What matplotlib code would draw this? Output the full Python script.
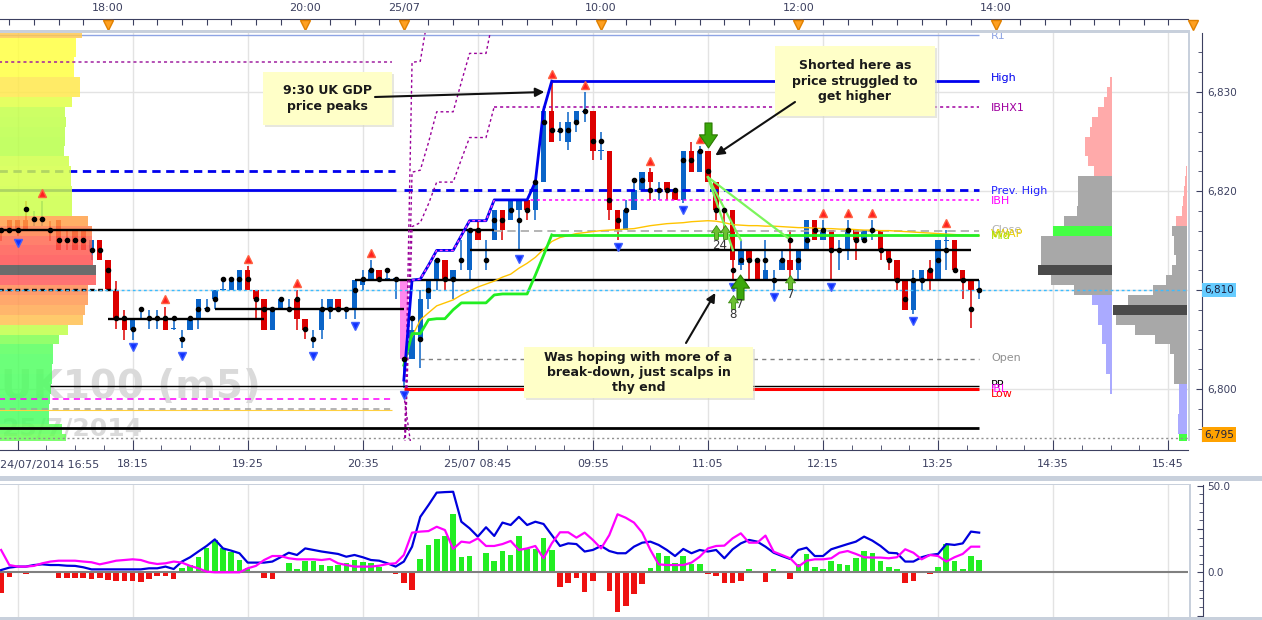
import matplotlib
matplotlib.use("Agg")
import matplotlib.pyplot as plt
import matplotlib.transforms as mtransforms
from matplotlib.patches import Rectangle
from matplotlib.path import Path
import numpy as np

plt.rcParams['font.family'] = ['DejaVu Sans']

# ---------------- DATA ----------------
# 5-minute bars, index 0 = 24/07 16:45 ... index 48 = 20:55, index 49 = 25/07 08:00
OPEN = [
    6816.0, 6817.1, 6817.1, 6817.07, 6817.1, 6817.1, 6816.1, 6817.1, 6815.1, 6816.1,
    6816.1, 6814.0, 6815.05, 6813.0, 6809.9, 6807.1, 6806.0, 6807.1, 6807.1, 6807.1,
    6807.1, 6806.1, 6805.1, 6806.0, 6807.1, 6808.1, 6809.1, 6810.0, 6810.0, 6810.0,
    6812.0, 6810.0, 6809.1, 6806.0, 6808.1, 6808.1, 6809.1, 6807.1, 6805.1, 6806.0,
    6808.1, 6809.1, 6808.1, 6808.1, 6810.5, 6811.1, 6812.0, 6811.1, 6811.1, 6811.1,
    6803.0, 6805.0, 6809.1, 6811.1, 6813.0, 6811.1, 6813.0, 6812.0, 6816.1, 6814.0,
    6815.05, 6818.1, 6817.07, 6818.08, 6819.09, 6818.08, 6820.94, 6828.08, 6826.0, 6824.98,
    6826.97, 6828.0, 6828.08, 6824.0, 6824.04, 6818.08, 6816.06, 6818.08, 6820.1, 6821.95,
    6820.1, 6820.94, 6820.1, 6819.09, 6824.04, 6821.95, 6824.04, 6820.94, 6818.1, 6818.08,
    6812.5, 6814.04, 6813.03, 6811.01, 6811.0, 6812.02, 6813.03, 6812.02, 6814.04, 6817.07,
    6815.05, 6816.06, 6814.0, 6814.04, 6816.06, 6815.05, 6816.0, 6816.06, 6814.04, 6813.03,
    6811.01, 6807.98, 6811.01, 6812.02, 6811.01, 6815.0, 6815.05, 6812.02, 6811.01, 6810.0,
]
HIGH = [
    6816.1, 6817.1, 6817.1, 6819.0, 6818.0, 6819.0, 6817.0, 6817.1, 6816.1, 6816.1,
    6816.1, 6815.05, 6815.05, 6813.0, 6810.9, 6808.0, 6807.0, 6808.1, 6808.0, 6808.0,
    6808.3, 6807.1, 6806.0, 6807.1, 6809.1, 6809.1, 6810.0, 6811.1, 6811.1, 6812.0,
    6812.4, 6810.0, 6809.1, 6808.1, 6809.1, 6809.1, 6810.0, 6807.1, 6806.0, 6809.1,
    6809.1, 6809.1, 6808.2, 6811.0, 6812.0, 6813.0, 6812.0, 6812.0, 6811.2, 6811.1,
    6807.1, 6810.0, 6811.1, 6813.0, 6813.0, 6812.0, 6815.05, 6816.1, 6817.1, 6815.05,
    6818.1, 6818.1, 6819.09, 6819.09, 6819.09, 6820.94, 6828.1, 6831.1, 6826.97, 6828.01,
    6828.08, 6830.0, 6828.08, 6826.0, 6824.04, 6818.08, 6819.09, 6821.11, 6821.95, 6822.3,
    6820.94, 6820.94, 6820.1, 6824.04, 6824.98, 6824.5, 6824.04, 6820.94, 6818.1, 6818.08,
    6815.05, 6814.04, 6813.03, 6815.05, 6812.02, 6814.04, 6816.06, 6814.04, 6817.07, 6817.07,
    6817.07, 6816.06, 6815.05, 6817.07, 6816.06, 6816.06, 6817.07, 6816.06, 6814.04, 6813.03,
    6811.01, 6812.02, 6812.02, 6813.03, 6815.05, 6816.06, 6815.05, 6812.02, 6811.01, 6811.01,
]
LOW = [
    6815.0, 6816.1, 6815.5, 6816.06, 6816.5, 6816.5, 6815.0, 6814.0, 6814.0, 6814.0,
    6814.0, 6813.0, 6813.0, 6810.1, 6806.1, 6805.0, 6805.0, 6807.1, 6806.1, 6806.1,
    6806.0, 6806.0, 6804.1, 6806.0, 6806.1, 6808.1, 6808.1, 6810.0, 6810.0, 6810.0,
    6810.0, 6807.1, 6806.0, 6806.0, 6808.1, 6808.1, 6806.0, 6805.1, 6804.1, 6805.1,
    6807.1, 6808.1, 6807.1, 6807.1, 6810.0, 6811.1, 6811.1, 6811.1, 6809.1, 6800.1,
    6803.0, 6802.1, 6808.1, 6810.0, 6810.0, 6809.1, 6812.0, 6811.1, 6815.05, 6812.0,
    6815.05, 6815.05, 6817.07, 6813.9, 6817.07, 6817.07, 6820.94, 6824.98, 6825.05, 6824.14,
    6826.0, 6827.0, 6823.13, 6823.13, 6817.07, 6815.05, 6816.06, 6818.08, 6820.1, 6819.09,
    6819.09, 6819.09, 6819.09, 6818.8, 6821.95, 6821.95, 6820.94, 6817.07, 6816.0, 6811.01,
    6812.0, 6811.01, 6811.01, 6811.01, 6810.0, 6812.02, 6811.01, 6811.01, 6814.04, 6815.05,
    6815.05, 6811.01, 6812.02, 6813.03, 6813.03, 6815.05, 6815.05, 6813.03, 6812.02, 6810.0,
    6807.98, 6807.6, 6810.0, 6810.0, 6811.01, 6812.02, 6812.02, 6809.09, 6806.13, 6809.09,
]
CLOSE = [
    6815.95, 6816.1, 6816.1, 6816.06, 6817.2, 6817.2, 6816.0, 6814.0, 6815.0, 6814.0,
    6814.0, 6815.05, 6813.0, 6810.1, 6807.1, 6806.0, 6807.0, 6807.2, 6807.2, 6807.2,
    6806.0, 6806.2, 6805.2, 6807.1, 6809.1, 6808.2, 6810.0, 6810.1, 6811.1, 6812.0,
    6810.0, 6809.1, 6806.0, 6808.1, 6809.1, 6808.2, 6807.1, 6806.0, 6805.2, 6808.1,
    6809.1, 6808.1, 6808.2, 6811.0, 6811.1, 6812.0, 6811.1, 6811.2, 6811.2, 6803.0,
    6806.0, 6809.1, 6811.1, 6813.0, 6811.1, 6812.0, 6813.1, 6816.1, 6815.05, 6814.1,
    6818.1, 6816.06, 6819.09, 6819.09, 6818.08, 6820.94, 6828.1, 6824.98, 6826.1, 6826.97,
    6828.08, 6828.1, 6824.04, 6824.1, 6818.08, 6816.06, 6818.08, 6820.1, 6821.95, 6820.94,
    6820.2, 6820.1, 6819.09, 6824.04, 6821.95, 6824.04, 6820.94, 6818.08, 6818.0, 6813.03,
    6814.04, 6813.03, 6811.01, 6812.02, 6811.1, 6813.03, 6812.02, 6814.04, 6817.07, 6815.05,
    6816.06, 6814.04, 6814.1, 6816.06, 6815.05, 6816.06, 6816.1, 6814.04, 6813.03, 6811.01,
    6807.98, 6811.01, 6812.02, 6811.01, 6815.05, 6815.1, 6812.02, 6811.01, 6810.0, 6810.0,
]
DOT = [
    6816.06, 6816.06, 6816.06, 6818.15, 6817.14, 6817.14, 6816.06, 6815.05, 6815.05, 6815.05,
    6815.05, 6814.04, 6814.04, 6812.02, 6807.14, 6807.14, 6806.06, 6808.11, 6807.14, 6807.14,
    6807.14, 6807.14, 6805.08, 6807.14, 6808.11, 6808.11, 6809.09, 6811.08, 6811.08, 6811.08,
    6811.08, 6809.09, 6808.11, 6808.11, 6809.09, 6808.11, 6809.09, 6806.06, 6805.08, 6808.11,
    6808.11, 6808.11, 6808.11, 6810.0, 6811.08, 6812.02, 6811.08, 6812.02, 6811.08, 6803.03,
    6807.14, 6805.08, 6810.0, 6813.03, 6811.08, 6811.08, 6813.03, 6816.06, 6816.06, 6813.03,
    6817.07, 6817.07, 6818.08, 6817.07, 6818.08, 6820.94, 6826.97, 6826.16, 6826.16, 6826.16,
    6826.97, 6828.08, 6825.05, 6825.05, 6819.09, 6817.07, 6818.08, 6821.11, 6821.11, 6820.1,
    6820.1, 6820.1, 6820.1, 6823.13, 6823.13, 6824.04, 6822.0, 6818.08, 6818.08, 6812.02,
    6813.03, 6813.03, 6813.03, 6813.03, 6811.01, 6813.03, 6815.05, 6813.03, 6815.05, 6816.06,
    6816.06, 6814.04, 6814.04, 6816.06, 6815.05, 6815.05, 6816.06, 6814.04, 6813.03, 6811.01,
    6809.09, 6811.01, 6811.01, 6812.02, 6813.03, 6814.04, 6812.02, 6811.01, 6808.11, 6810.0,
]
SWING_HIGH_BARS = [5, 20, 30, 36, 45, 67, 71, 79, 85, 100, 103, 106, 115]
SWING_LOW_BARS = [2, 16, 22, 38, 43, 49, 63, 75, 83, 89, 94, 101, 111]
GAP_BAR = 49

# developing session lines (25/07), starting at bar 49
DEV_START = 49
RUN_HIGH = [6800.9, 6811.0, 6811.1, 6812.5, 6814.0, 6814.0, 6814.0, 6815.5, 6817.0, 6817.0,
            6817.0, 6819.1, 6819.1, 6819.1, 6819.1, 6819.1, 6820.9, 6828.2, 6831.1]
MID_DEV = [6802.4, 6805.6, 6805.6, 6807.0, 6807.1, 6807.1, 6808.0, 6808.7, 6808.7, 6808.7,
           6808.7, 6809.5, 6809.6, 6809.6, 6809.6, 6809.6, 6811.5, 6813.5, 6815.56]
IBX_HALF = [6790.0, 6816.4, 6816.8, 6818.7, 6820.9, 6820.9, 6820.9, 6823.2, 6825.4, 6825.4, 6825.4, 6828.52]
IBX_ONE = [6790.0, 6821.9, 6822.1, 6824.9, 6828.0, 6828.0, 6828.0, 6831.0, 6833.9, 6833.9, 6833.9, 6838.0]
IBX_TWO = [6790.0, 6833.0, 6833.1, 6838.0]
IBLX = [6799.4, 6793.5]
VWAP_START = 50
VWAP = [6805.28, 6806.97, 6807.7, 6808.4, 6808.7, 6809.0, 6809.5, 6809.9, 6810.3, 6810.6,
        6810.9, 6811.3, 6811.6, 6812.2, 6812.7, 6813.3, 6814.1, 6814.9, 6815.3, 6815.5,
        6815.7, 6815.8, 6815.9, 6816.0, 6816.05, 6816.1, 6816.15, 6816.2, 6816.35, 6816.5,
        6816.6, 6816.7, 6816.75, 6816.8, 6816.9, 6816.95, 6817.0, 6816.95, 6816.8, 6816.6,
        6816.55, 6816.5, 6816.5, 6816.45, 6816.45, 6816.4, 6816.35, 6816.3, 6816.3, 6816.25,
        6816.2, 6816.2, 6816.15, 6816.15, 6816.1, 6816.05, 6816.05, 6816.0, 6816.0, 6815.95,
        6815.9, 6815.85, 6815.8, 6815.75, 6815.7, 6815.65, 6815.6, 6815.55, 6815.5, 6815.5]

# horizontal levels: name, price, first bar, last bar
LEVEL_NAMES = ['r1', 'prev_x2', 'high', 'ibhx1', 'prev_r', 'prev_high_old', 'prev_high', 'ibh',
               'lvl_a', 'close', 'mid', 'lvl_b', 'lvl_c', 'lvl_d', 'lvl_e', 'lvl_f', 'open',
               'pp', 'low', 'prev_s1', 'prev_s2', 'lvl_g', 'floor', 'last']
LEVEL_PRICES = [6835.76, 6833.0, 6831.14, 6828.52, 6822.05, 6820.1, 6820.1, 6819.09,
                6816.06, 6816.0, 6815.56, 6814.04, 6811.0, 6810.0, 6808.08, 6807.07, 6803.03,
                6800.3, 6800.0, 6799.0, 6797.98, 6796.06, 6795.05, 6810.0]
LEVEL_START = [-0.2, -0.2, 67, 60, -0.2, -0.2, 49, 60, -0.2, 60, 67, 57, 43, -0.2, 26, 13, 51,
               6, 49, -0.2, -0.2, -0.2, -0.2, -0.2]
LEVEL_END = [119, 47.6, 119, 119, 47.9, 48.0, 119, 119, 60, 119, 119, 118, 119, 14, 49, 32, 119,
             119, 119, 47.6, 47.6, 119, 146, 146]

LABEL_TEXT = ['R1', 'High', 'IBHX1', 'Prev. High', 'IBH', 'Close', 'VWAP', 'Mid', 'Open', 'PP', 'IBL', 'Low']
LABEL_PRICE = [6835.7, 6831.4, 6828.4, 6819.95, 6818.95, 6816.1, 6815.65, 6815.5, 6803.1, 6800.4, 6800.0, 6799.5]

# trade signals
TREND_FROM = (86, 6821.4)
TREND_TO = [(89.05, 6814.0), (90.0, 6815.05), (95.9, 6815.15)]
SIG_DOWN = [(86, 6825.7)]
SIG_UP_BIG = [(89.9, 6810.3)]
SIG_UP_SMALL = [(87.0, 6815.9), (88.1, 6815.9), (89.0, 6808.8), (96.0, 6810.8)]
SIG_TEXT = [('24', 87.4, 6814.5), ('7', 89.9, 6808.5), ('8', 89.0, 6807.5), ('7', 96.1, 6809.5)]

# volume profiles
PREV_PROF_PRICE = list(range(6795, 6837))
PREV_PROF_VOL = [66, 62, 49, 49, 50, 51, 52, 52, 53, 53, 59.4, 67.5, 83, 85, 88.4, 87.5, 95.6, 96.4,
                 93, 92.4, 92.4, 92.4, 87.5, 72, 72, 71.5, 71, 71, 69, 63.5, 65, 65, 66, 65, 71.5,
                 79.5, 79.5, 74, 74, 76, 76, 82]
TODAY_PROF_PRICE = list(range(6800, 6832))
TODAY_PROF_VOL = [2, 2, 6, 6, 6, 10, 10, 14, 14, 20, 38.5, 61, 74, 71, 71, 71, 59, 48.5, 35, 34, 34, 34,
                  18, 24, 27, 27, 22, 20, 14, 8, 5, 2]
COMP_PROF_PRICE = list(range(6795, 6823))
COMP_PROF_VOL = [8, 9, 9, 8, 8, 8, 13, 13, 13, 17.5, 32, 52, 71, 74, 59, 34, 21, 15, 11, 13, 13, 15,
                 11, 5, 4, 3, 2, 1]

# lower oscillator panel
HIST = [-11.7, -2.5, 0.0, -1.0, 0.3, 0.0, -0.5, -3.0, -3.0, -3.5,
        -3.0, -4.0, -3.0, -4.4, -5.0, -5.0, -5.0, -5.4, -4.0, -2.0,
        -2.0, -4.0, 2.7, 4.2, 9.0, 13.8, 18.7, 13.8, 12.0, 7.0,
        2.3, 0.8, -3.0, -3.7, -0.6, 5.6, 2.0, 6.5, 6.5, 4.2,
        3.8, 4.2, 5.2, 7.1, 6.2, 5.6, 2.9, 0.0, -1.2, -6.0,
        -10.2, 7.5, 15.8, 19.2, 21.2, 33.7, 8.7, 9.4, 1.0, 11.0,
        6.7, 12.3, 10.0, 21.0, 13.5, 13.5, 19.6, 12.9, -8.7, -6.0,
        -3.5, -11.5, -4.8, -0.6, -10.6, -22.7, -19.2, -12.7, -6.7, 2.3,
        11.3, 9.4, 5.6, 9.4, 4.8, 4.8, -1.2, -2.1, -6.3, -6.3,
        -4.8, 1.9, 0.0, -5.8, 1.9, -0.6, -4.0, 4.8, 10.6, 2.9,
        1.9, 6.7, 4.8, 4.2, 8.5, 12.3, 11.3, 6.7, 3.3, 1.7,
        -6.3, -5.0, 1.0, -1.0, 3.3, 16.3, 6.7, 1.9, 9.4, 7.1]
OSC_BLUE = [1.3, 2.7, 3.3, 3.3, 4.2, 4.6, 4.2, 4.2, 3.8, 3.7,
            2.9, 1.7, 1.7, 1.7, 1.7, 1.7, 1.7, 1.7, 2.3, 2.3,
            3.3, 1.9, 6.2, 8.7, 12.0, 15.2, 19.0, 13.8, 12.5, 11.0,
            5.6, 5.6, 5.6, 6.2, 8.7, 11.3, 10.0, 13.8, 12.9, 12.0,
            11.3, 10.6, 9.0, 10.0, 8.7, 7.1, 6.7, 5.2, 3.3, 6.2,
            14.8, 32.0, 38.8, 46.0, 46.3, 46.5, 29.2, 25.4, 20.6, 26.0,
            21.0, 28.7, 27.3, 32.0, 27.3, 29.2, 27.9, 21.5, 15.2, 16.7,
            16.3, 12.0, 12.9, 15.2, 12.3, 11.0, 11.0, 14.8, 17.1, 17.7,
            15.8, 12.9, 9.4, 13.5, 11.0, 12.9, 12.0, 12.9, 8.1, 13.3,
            16.7, 18.7, 17.7, 14.8, 11.3, 9.4, 7.7, 12.9, 14.2, 9.4,
            9.4, 13.3, 14.8, 16.3, 17.7, 20.6, 18.3, 15.2, 11.3, 11.0,
            6.2, 6.2, 8.7, 10.0, 10.6, 16.3, 15.8, 16.7, 23.5, 22.9]
OSC_MAG = [12.9, 4.2, 3.3, 3.3, 3.7, 5.2, 6.2, 6.7, 6.7, 6.7,
           6.2, 5.8, 4.6, 5.6, 6.7, 7.1, 7.5, 7.1, 5.6, 4.8,
           5.2, 6.2, 5.6, 3.7, 2.3, 0.4, 0.0, 0.0, 0.0, 0.0,
           2.3, 3.7, 7.1, 9.4, 9.4, 8.1, 7.5, 7.5, 7.5, 7.1,
           7.7, 5.2, 4.2, 3.3, 3.3, 3.3, 3.8, 4.8, 5.2, 10.0,
           22.9, 23.5, 23.8, 26.3, 24.4, 13.5, 17.7, 17.1, 19.6, 15.2,
           15.2, 16.3, 18.1, 12.9, 13.8, 15.2, 8.1, 16.7, 23.1, 23.1,
           20.0, 22.9, 18.7, 13.8, 21.5, 33.5, 31.5, 28.7, 22.9, 12.9,
           4.6, 4.2, 4.2, 4.2, 5.6, 9.0, 13.8, 15.2, 15.4, 19.6,
           22.5, 17.1, 17.1, 21.2, 11.9, 10.0, 8.1, 3.3, 6.7, 7.5,
           7.5, 8.1, 11.3, 12.3, 10.6, 8.7, 8.5, 8.5, 8.1, 8.7,
           13.3, 11.3, 7.5, 10.0, 9.4, 6.2, 8.7, 10.6, 14.8, 14.8]

# axis labels
BOTTOM_TICK_LABELS = ['', '18:15', '19:25', '20:35', '25/07 08:45', '09:55', '11:05', '12:15',
                      '13:25', '14:35', '15:45']
FIRST_DATE_LABEL = '24/07/2014 16:55'
TOP_LABEL_BARS = [13, 37, 49, 73, 97, 121]
TOP_LABELS = ['18:00', '20:00', '25/07', '10:00', '12:00', '14:00']
HOUR_MARK_BARS = [13, 37, 49, 73, 97, 121, 145]

# ---------------- LAYOUT ----------------
W, H = 1262, 620
PX_PER_BAR = 8.219
X0_PX = 1.1
PLOT_R = 1188
TOP, BOT = 33, 441
REF_Y, REF_P, PX_PER_PT = 290, 6810.0, 9.9


def px_to_k(x):
    return (x - X0_PX) / PX_PER_BAR


def py_to_p(y):
    return REF_P + (REF_Y - y) / PX_PER_PT


def fax(x0, y0, x1, y1):
    return [x0 / W, 1 - y1 / H, (x1 - x0) / W, (y1 - y0) / H]


for name, arr in [('HIGH', HIGH), ('LOW', LOW), ('CLOSE', CLOSE), ('DOT', DOT), ('HIST', HIST),
                  ('OSC_BLUE', OSC_BLUE), ('OSC_MAG', OSC_MAG)]:
    assert len(arr) == len(OPEN), (name, len(arr))

BLUE_C, RED_C = '#0a64c8', '#dc0000'
AXC = '#3c4060'

fig = plt.figure(figsize=(W / 100, H / 100), dpi=100)
fig.patch.set_facecolor('white')

ax = fig.add_axes(fax(0, TOP, PLOT_R, BOT))
XMIN, XMAX = px_to_k(0), px_to_k(PLOT_R)
ax.set_xlim(XMIN, XMAX)
ax.set_ylim(py_to_p(BOT), py_to_p(TOP))
ax.set_facecolor('white')

N = len(OPEN)
K = np.arange(N)
O = np.array(OPEN); Hh = np.array(HIGH); L = np.array(LOW); C = np.array(CLOSE)

# ---- axes decoration ----
for s in ['left', 'top']:
    ax.spines[s].set_visible(False)
ax.spines['right'].set_position(('outward', 10))
ax.spines['bottom'].set_position(('outward', 6.5))
for s in ['right', 'bottom']:
    ax.spines[s].set_color(AXC)
ax.yaxis.tick_right()
major_x = np.arange(2, 145, 14)
ax.set_xticks(major_x)
ax.set_xticklabels(BOTTOM_TICK_LABELS)
ax.set_xticks([m for m in np.arange(2, 145, 3.5) if m not in major_x], minor=True)
ax.set_yticks([6800, 6810, 6820, 6830])
ax.set_yticklabels(['6,800', '', '6,820', '6,830'])
ax.set_yticks(np.arange(6796, 6836, 2), minor=True)
ax.tick_params(axis='x', which='major', direction='in', length=7, pad=6.5, labelsize=8, colors=AXC)
ax.tick_params(axis='x', which='minor', direction='in', length=3.5, colors=AXC)
ax.tick_params(axis='y', which='major', direction='in', length=4.5, pad=3.5, labelsize=7.5, colors=AXC)
ax.tick_params(axis='y', which='minor', direction='in', length=3, colors=AXC)
ax.grid(True, which='major', color='#e3e3e3', lw=1, zorder=0)
ax.set_axisbelow(True)

sec = ax.secondary_xaxis(1 + 14 / (BOT - TOP))
sec.set_xticks(np.arange(1, 146, 3))
sec.set_xticklabels([TOP_LABELS[TOP_LABEL_BARS.index(t)] if t in TOP_LABEL_BARS else ''
                     for t in np.arange(1, 146, 3)])
sec.tick_params(axis='x', direction='in', length=4.3, pad=4, labelsize=8, colors=AXC)
for sp in sec.spines.values():
    sp.set_color(AXC)
blend = mtransforms.blended_transform_factory(ax.transData, ax.transAxes)
ax.plot(HOUR_MARK_BARS, [1 + 8.5 / (BOT - TOP)] * len(HOUR_MARK_BARS), 'v', color='#ffa020',
        mec='#e08000', ms=6.5, transform=blend, clip_on=False, zorder=20)

# boxed price labels on the right axis
yblend = mtransforms.blended_transform_factory(ax.transAxes, ax.transData)
ax.text(1 + 16 / PLOT_R, 6810.0, '6,810', transform=yblend, fontsize=7.5, color='#1c2040',
        va='center', ha='left', bbox=dict(boxstyle='square,pad=0.2', fc='#66ccff', ec='none'),
        clip_on=False)
ax.text(1 + 16 / PLOT_R, 6795.4, '6,795', transform=yblend, fontsize=7.5, color='#1c2040',
        va='center', ha='left', bbox=dict(boxstyle='square,pad=0.2', fc='#ffa200', ec='none'),
        clip_on=False)

# ---- level line styles ----
STY = {
    'r1': dict(color='#8ea4e4', lw=1.0, ls='-', z=2),
    'prev_x2': dict(color='#a020a0', lw=1.1, ls=(0, (2, 2)), z=7),
    'high': dict(color='#0000ee', lw=2.0, ls='-', z=7),
    'ibhx1': dict(color='#a000a0', lw=1.1, ls=(0, (2, 2)), z=7),
    'prev_r': dict(color='#0000ee', lw=2.0, ls=(0, (3, 2)), z=2),
    'prev_high_old': dict(color='#0000ee', lw=2.0, ls='-', z=2),
    'prev_high': dict(color='#0000ee', lw=2.0, ls=(0, (3, 2)), z=7),
    'ibh': dict(color='#ff00ff', lw=1.1, ls=(0, (2, 2)), z=7),
    'lvl_a': dict(color='black', lw=1.7, ls='-', z=7),
    'close': dict(color='#a8a8a8', lw=1.2, ls=(0, (5, 3)), z=7),
    'mid': dict(color='#22ee22', lw=2.0, ls='-', z=7.2),
    'lvl_b': dict(color='black', lw=1.7, ls='-', z=7),
    'lvl_c': dict(color='black', lw=1.7, ls='-', z=7),
    'lvl_d': dict(color='black', lw=1.7, ls=(0, (2, 1.5)), z=7.5),
    'lvl_e': dict(color='black', lw=1.7, ls='-', z=7),
    'lvl_f': dict(color='black', lw=1.7, ls='-', z=7),
    'open': dict(color='#808080', lw=1.0, ls=(0, (3, 3)), z=7),
    'pp': dict(color='black', lw=1.0, ls='-', z=7),
    'low': dict(color='#ff0000', lw=2.2, ls='-', z=7),
    'prev_s1': dict(color='#ff00ff', lw=1.1, ls=(0, (4, 3)), z=7),
    'prev_s2': dict(color='#a0a0a0', lw=1.1, ls=(0, (4, 3)), z=7),
    'lvl_g': dict(color='black', lw=2.0, ls='-', z=7),
    'floor': dict(color='#909090', lw=1.0, ls=(0, (1.5, 2)), z=7),
    'last': dict(color='#3cbcff', lw=1.0, ls=(0, (2, 2)), z=8),
}
for nm, p, k0, k1 in zip(LEVEL_NAMES, LEVEL_PRICES, LEVEL_START, LEVEL_END):
    s = STY[nm]
    ax.hlines(p, k0, k1, colors=s['color'], lw=s['lw'], linestyles=[s['ls']], zorder=s['z'])
    if nm == 'prev_s2':
        ax.hlines(p - 0.12, k0, k1, colors='#ffd040', lw=0.8, zorder=6.9)

# ---- candles ----
up = C >= O
body_col = np.where(up, BLUE_C, RED_C)
wick_col = body_col.copy()
wick_col[GAP_BAR] = BLUE_C
ax.vlines(K, L, Hh, colors=wick_col, lw=1.1, zorder=4)
bottoms = np.minimum(O, C)
heights = np.maximum(np.abs(C - O), 0.09)
ax.bar(K, heights, bottom=bottoms, width=0.66, color=body_col, linewidth=0, zorder=4.1)
ax.bar([GAP_BAR], [heights[GAP_BAR]], bottom=[bottoms[GAP_BAR]], width=0.95, color='#ff88ee',
       linewidth=0, zorder=4.2)
ax.plot(K, DOT, 'o', color='black', ms=3.0, zorder=9)
ax.plot(SWING_HIGH_BARS, Hh[SWING_HIGH_BARS] + 0.75, '^', color='#ff2020', mec='#ff6040',
        ms=5.5, zorder=9)
ax.plot(SWING_LOW_BARS, L[SWING_LOW_BARS] - 0.75, 'v', color='#1030ff', mec='#4060ff',
        ms=5.5, zorder=9)

# ---- previous-day profile (left) ----
PREV_COLORS = ['#66ff55', '#5cff58', '#48ff60', '#48ff60', '#48ff60', '#4cff60', '#4cff60',
               '#50ff60', '#50ff60', '#58ff5c', '#80ff50', '#c0ff48', '#ffc050', '#ffa850',
               '#ff9850', '#ff8850', '#ff5858', '#505050', '#ff5050', '#ff5a50', '#ff6850',
               '#ff8048', '#ffa048', '#ccff48', '#ccff48', '#d0ff48', '#d4ff48', '#d4ff48',
               '#d0ff48', '#b8ff48', '#b8ff48', '#bcff48', '#c0ff48', '#c4ff48', '#e0ff44',
               '#ffe84a', '#ffe84a', '#ffff40', '#ffff40', '#ffff40', '#ffff40', '#ffc850']
ax.barh(PREV_PROF_PRICE, np.array(PREV_PROF_VOL) / PX_PER_BAR, left=XMIN, height=1.0,
        color=PREV_COLORS, alpha=0.84, linewidth=0, zorder=6)

# ---- right-hand profiles ----
def prof_colors(prices, poc, green, lo_end, hi_start):
    cols = []
    for p in prices:
        if p == poc:
            cols.append('#4a4a4a')
        elif p == green:
            cols.append('#44ff44')
        elif p <= lo_end:
            cols.append('#aaaaff')
        elif p >= hi_start:
            cols.append('#ffaaaa')
        else:
            cols.append('#a8a8a8')
    return cols

ax.barh(TODAY_PROF_PRICE, -np.array(TODAY_PROF_VOL) / PX_PER_BAR, left=px_to_k(1112), height=1.0,
        color=prof_colors(TODAY_PROF_PRICE, 6812, 6816, 6809, 6822), linewidth=0, zorder=3)
comp_cols = prof_colors(COMP_PROF_PRICE, 6808, 6795, 6800, 6817)
ax.barh(COMP_PROF_PRICE, -np.array(COMP_PROF_VOL) / PX_PER_BAR, left=px_to_k(1187), height=1.0,
        color=comp_cols, linewidth=0, zorder=3)

# ---- watermark (under the profile, as in the original) ----
ax.text(1 / PLOT_R, (BOT - 398) / (BOT - TOP), 'UK100 (m5)', transform=ax.transAxes,
        fontsize=28, fontweight='bold', color='#dadada', va='baseline', ha='left', zorder=1.5)
ax.text(2 / PLOT_R, (BOT - 435) / (BOT - TOP), '25/7/2014', transform=ax.transAxes,
        fontsize=18, fontweight='bold', color='#dadada', va='baseline', ha='left', zorder=1.5)

# ---- developing session lines ----
kd = np.arange(DEV_START, DEV_START + len(RUN_HIGH))
ax.plot(kd, RUN_HIGH, color='#0000ee', lw=2.0, zorder=7.4)
kib = np.arange(DEV_START, DEV_START + len(IBX_HALF))
ax.plot(kib[1:], np.array(RUN_HIGH)[1:len(kib)], color='#ff40ff', lw=1.0, ls=(0, (2, 2)), zorder=7.5)
ax.plot(kd, MID_DEV, color='#22ee22', lw=2.0, zorder=7.3)
ax.plot(np.arange(VWAP_START, VWAP_START + len(VWAP)), VWAP, color='#ffc400', lw=1.0, zorder=7.1)
ax.plot(kib, IBX_HALF, color='#990099', lw=1.0, ls=(0, (2, 2)), zorder=7)
ax.plot(kib, IBX_ONE, color='#990099', lw=1.0, ls=(0, (2, 2)), zorder=7)
ax.plot(np.arange(DEV_START, DEV_START + len(IBX_TWO)), IBX_TWO, color='#990099', lw=1.0,
        ls=(0, (2, 2)), zorder=7)
ax.plot(np.arange(DEV_START, DEV_START + len(IBLX)), IBLX, color='#990099', lw=1.0,
        ls=(0, (2, 2)), zorder=7)

# ---- level labels ----
LABEL_COLORS = ['#8ea4e4', '#0000ee', '#a000a0', '#2020ff', '#ff00ff', '#b0b0b0', '#e8cc00',
                '#a8e000', '#909090', '#000000', '#ff00ff', '#ff0000']
LABEL_K = px_to_k(991)
for t, p, c in zip(LABEL_TEXT, LABEL_PRICE, LABEL_COLORS):
    ax.text(LABEL_K, p, t, color=c, fontsize=8, va='center', ha='left', zorder=12)

# ---- trade signals ----
for (k1, p1) in TREND_TO:
    ax.plot([TREND_FROM[0], k1], [TREND_FROM[1], p1], color='#7cf55c', lw=1.6, zorder=8.5)

down_arrow = Path([(-0.28, 1), (0.28, 1), (0.28, 0.05), (0.72, 0.05), (0, -1), (-0.72, 0.05),
                   (-0.28, 0.05), (-0.28, 1)],
                  [Path.MOVETO] + [Path.LINETO] * 6 + [Path.CLOSEPOLY])
up_arrow = Path([(x, -y) for x, y in down_arrow.vertices], down_arrow.codes)
for k1, p1 in SIG_DOWN:
    ax.plot(k1, p1, marker=down_arrow, ms=18, mfc='#3aa80a', mec='#2a7800', mew=0.8, zorder=10)
for k1, p1 in SIG_UP_BIG:
    ax.plot(k1, p1, marker=up_arrow, ms=18, mfc='#3aa80a', mec='#2a7800', mew=0.8, zorder=10)
for k1, p1 in SIG_UP_SMALL:
    ax.plot(k1, p1, marker=up_arrow, ms=10, mfc='#6cc030', mec='#3a8a10', mew=0.6, zorder=10)
for t, k1, p1 in SIG_TEXT:
    ax.text(k1, p1, t, fontsize=8.5, color='#333333', ha='center', va='center', zorder=10)

# ---- lower oscillator panel ----
lax = fig.add_axes(fax(0, 485, PLOT_R, 617))
lax.set_xlim(XMIN, XMAX)
lax.set_ylim(-25.8, 50.4)
for s in ['left', 'top', 'bottom']:
    lax.spines[s].set_visible(False)
lax.spines['right'].set_position(('outward', 10.8))
lax.spines['right'].set_color(AXC)
lax.yaxis.tick_right()
lax.set_yticks([-25, 0, 25, 50])
lax.set_yticklabels(['', '0.0', '', '50.0'])
lax.set_yticks([v for v in np.arange(-25, 51, 5) if v % 25 != 0], minor=True)
lax.tick_params(axis='y', which='major', direction='in', length=4.5, pad=3, labelsize=7.5, colors=AXC)
lax.tick_params(axis='y', which='minor', direction='in', length=3, colors=AXC)
lax.set_xticks(major_x)
lax.tick_params(axis='x', length=0, labelbottom=False)
lax.grid(True, axis='x', color='#e3e3e3', lw=1)
lax.set_axisbelow(True)
hv = np.array(HIST)
lax.bar(K, hv, width=0.68, color=np.where(hv >= 0, '#22ee22', '#ee1111'), linewidth=0, zorder=2)
lax.axhline(0, color='#808080', lw=1.5, zorder=3)
lax.plot(K, OSC_BLUE, color='#0000dd', lw=1.6, zorder=4)
lax.plot(K, OSC_MAG, color='#ff00ff', lw=1.6, zorder=4)

# ---- overlay: frames and annotations (pixel coordinates) ----
ov = fig.add_axes([0, 0, 1, 1], zorder=10)
ov.set_xlim(0, W)
ov.set_ylim(H, 0)
ov.axis('off')
ov.patch.set_alpha(0)
FRAME = '#c8d0dc'
for (x, y, w, h) in [(0, 30, 1190, 3), (1188, 30, 2, 411), (0, 476, W, 5), (0, 483.5, 1190, 1.5),
                     (1189, 484, 1.5, 133), (0, 617, W, 3)]:
    ov.add_patch(Rectangle((x, y), w, h, color=FRAME, lw=0))
ov.text(0, 465, FIRST_DATE_LABEL, fontsize=8, color=AXC, ha='left', va='center')

BOXES = [((263, 72, 392, 125), '9:30 UK GDP\nprice peaks'),
         ((775, 46, 935, 116), 'Shorted here as\nprice struggled to\nget higher'),
         ((524, 347, 753, 398), 'Was hoping with more of a\nbreak-down, just scalps in\nthy end')]
for (x0, y0, x1, y1), txt in BOXES:
    ov.add_patch(Rectangle((x0 + 2, y0 + 2), x1 - x0, y1 - y0, color='#d8d8c8', alpha=0.6, lw=0))
    ov.add_patch(Rectangle((x0, y0), x1 - x0, y1 - y0, color='#ffffc8', lw=0))
    ov.text((x0 + x1) / 2, (y0 + y1) / 2, txt, ha='center', va='center', fontsize=9,
            fontweight='bold', color='#1a1a1a', linespacing=1.25)

ARROWS = [((375, 97), (66.1, 6830.0)), ((795, 102), (86.9, 6823.6)), ((686, 343), (86.9, 6809.7))]
for tail, head in ARROWS:
    ov.annotate('', xy=head, xycoords=ax.transData, xytext=tail, textcoords='data',
                arrowprops=dict(arrowstyle='-|>', color='#111111', lw=1.5, mutation_scale=13,
                                shrinkA=0, shrinkB=0))

fig.savefig('out.png', dpi=100, facecolor='white')
